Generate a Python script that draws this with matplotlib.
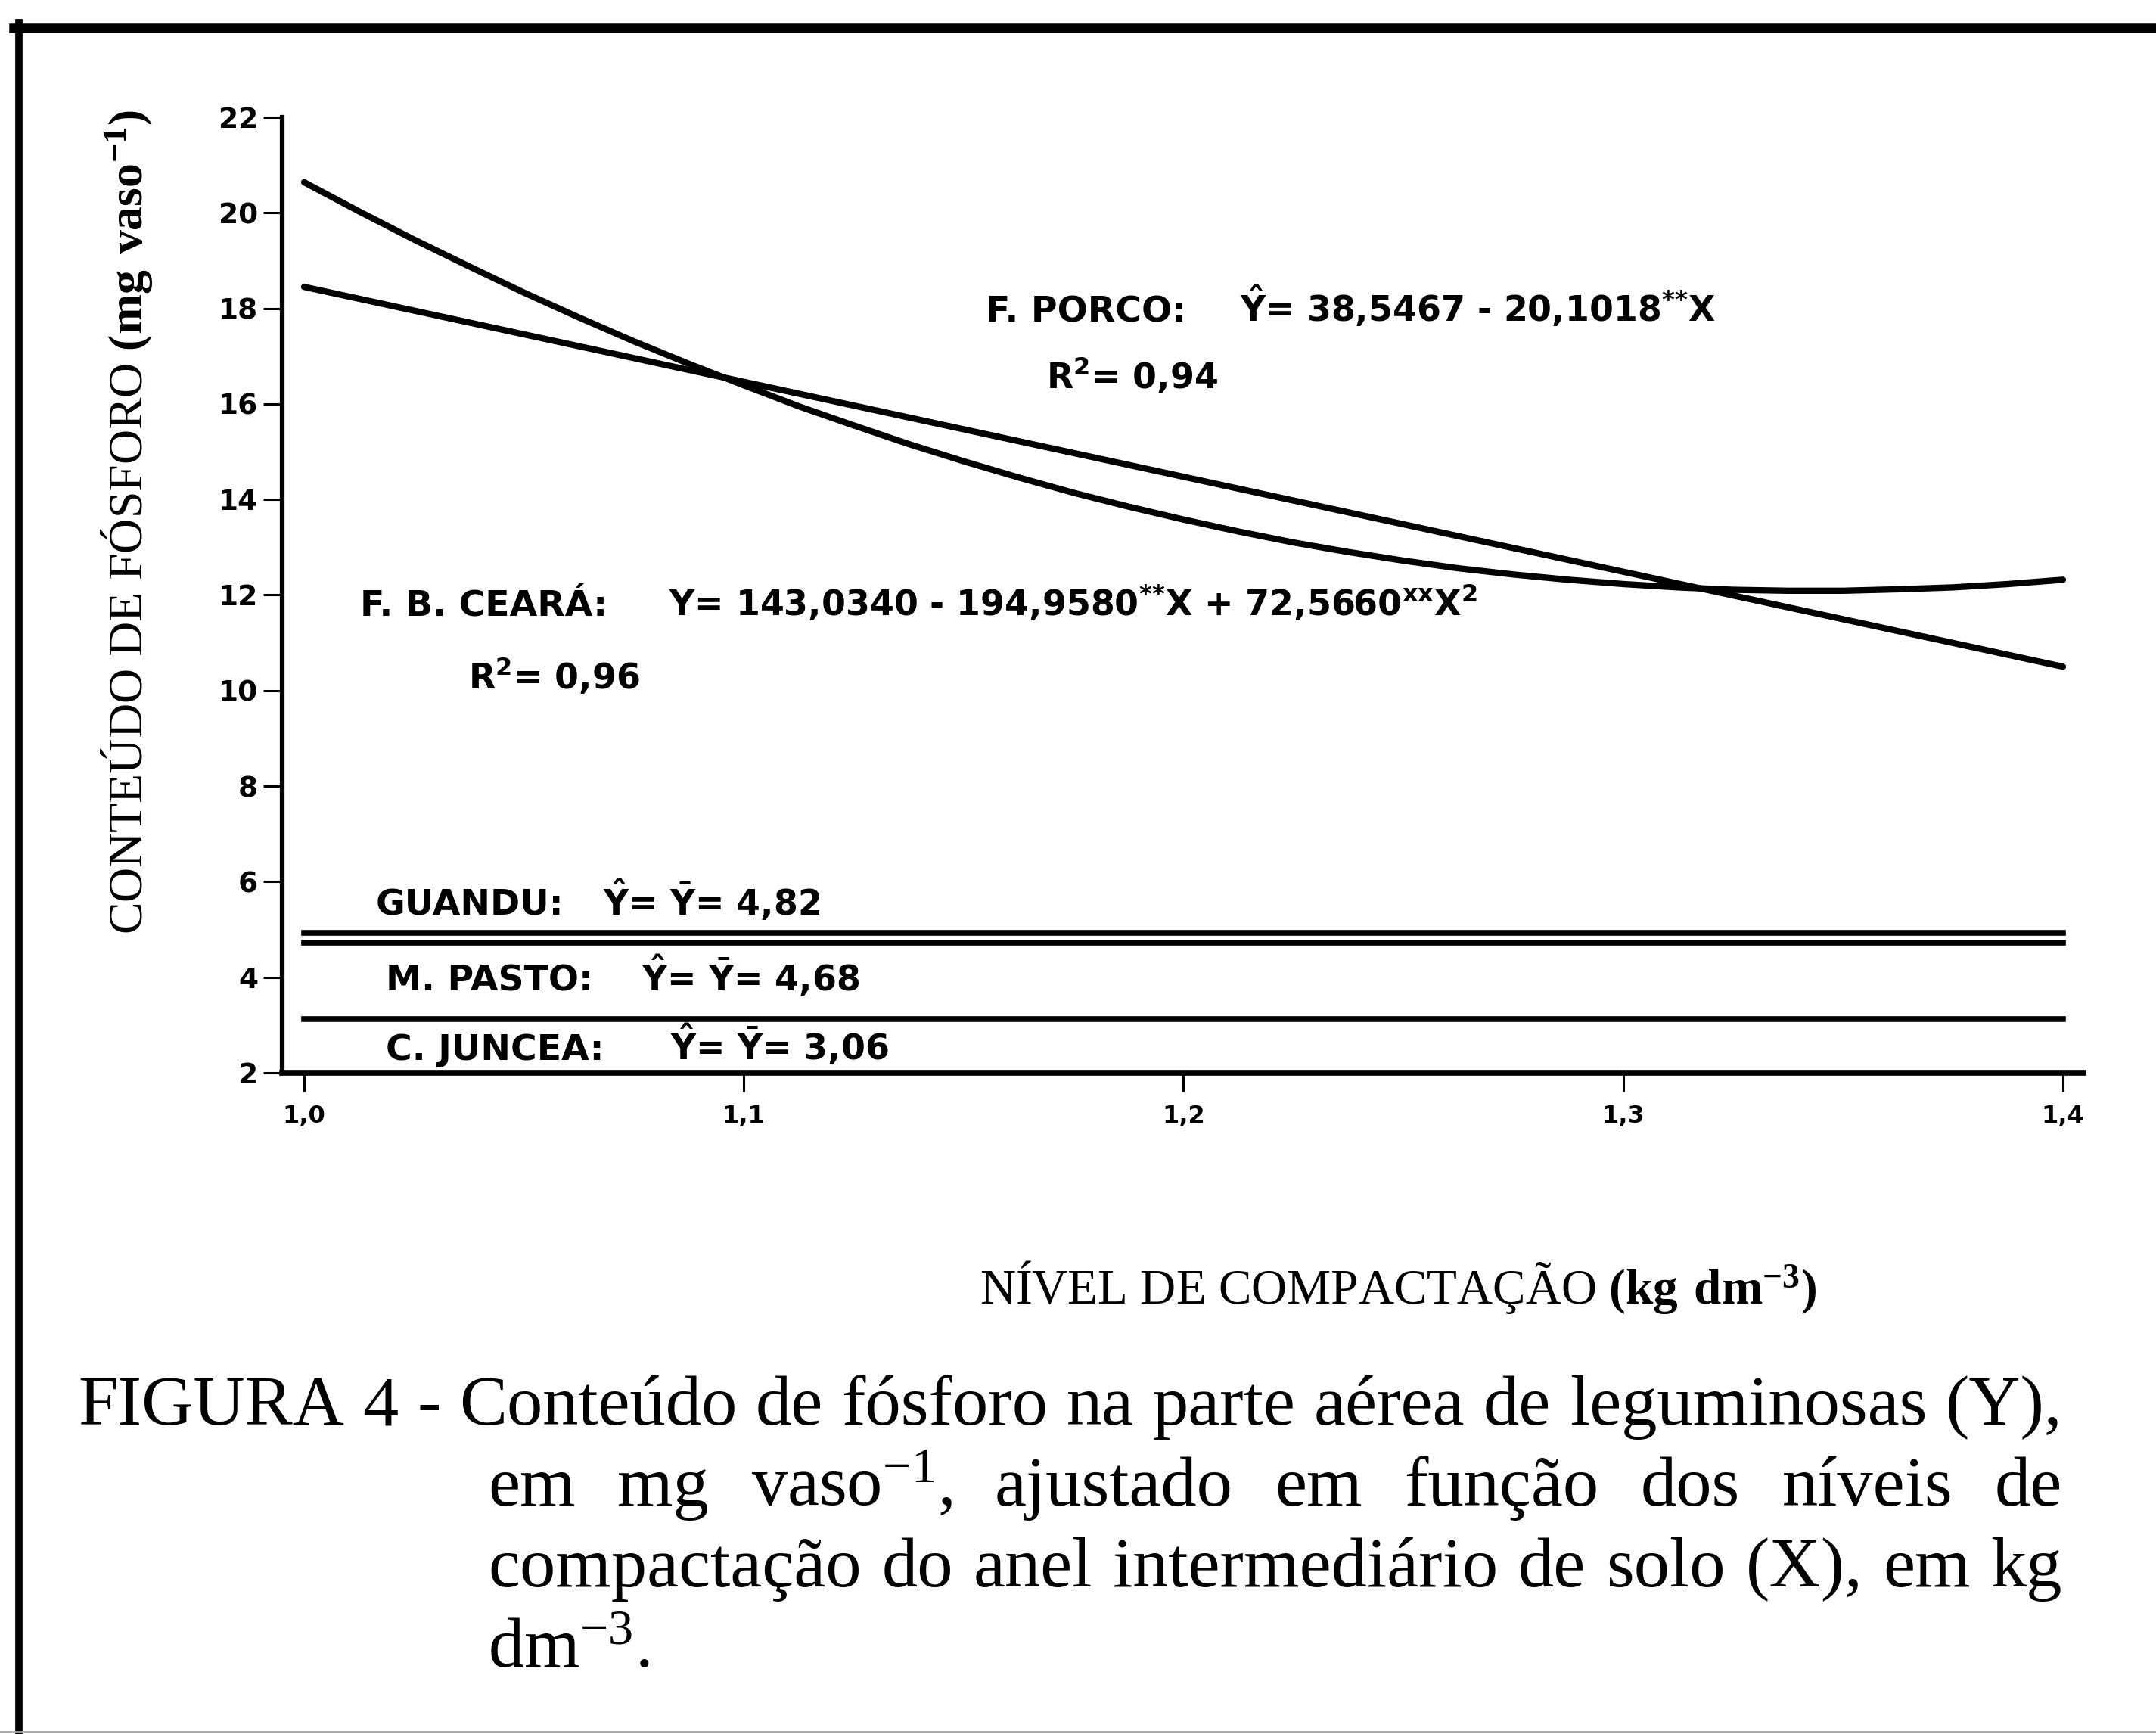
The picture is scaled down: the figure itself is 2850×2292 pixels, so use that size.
import numpy as np
import matplotlib
matplotlib.use("Agg")
import matplotlib.pyplot as plt
from matplotlib.lines import Line2D

# figure size in pixels (saved at dpi 100)
W, H = 2850, 2292

# %% values
xCeara = [1.0000, 1.0125, 1.0250, 1.0375, 1.0500, 1.0625, 1.0750, 1.0875,
          1.1000, 1.1125, 1.1250, 1.1375, 1.1500, 1.1625, 1.1750, 1.1875,
          1.2000, 1.2125, 1.2250, 1.2375, 1.2500, 1.2625, 1.2750, 1.2875,
          1.3000, 1.3125, 1.3250, 1.3375, 1.3500, 1.3625, 1.3750, 1.3875,
          1.4000]
yCeara = [20.64, 20.03, 19.44, 18.88, 18.33, 17.81, 17.31, 16.84,
          16.39, 15.95, 15.55, 15.16, 14.80, 14.46, 14.14, 13.85,
          13.58, 13.33, 13.10, 12.90, 12.72, 12.56, 12.43, 12.32,
          12.23, 12.16, 12.11, 12.09, 12.09, 12.12, 12.16, 12.23,
          12.32]

xPorco = [1.0, 1.4]
yPorco = [18.45, 10.50]

xFlat   = [1.0, 1.4]
guandu  = [4.93, 4.93]
mPasto  = [4.72, 4.72]
cJuncea = [3.12, 3.12]

xTicks      = [1.0, 1.1, 1.2, 1.3, 1.4]
xTickLabels = ["1,0", "1,1", "1,2", "1,3", "1,4"]
yTicks      = [2, 4, 6, 8, 10, 12, 14, 16, 18, 20, 22]

# labels written inside the plot
names = ["F. PORCO:", "F. B. CEARÁ:", "GUANDU:", "M. PASTO:", "C. JUNCEA:"]
eqPorco  = r"$\hat{Y}$= 38,5467 - 20,1018$^{\text{**}}$X"
r2Porco  = r"R$^{2}$= 0,94"
eqCeara  = r"Y= 143,0340 - 194,9580$^{\text{**}}$X + 72,5660$^{\text{xx}}$X$^{2}$"
r2Ceara  = r"R$^{2}$= 0,96"
eqGuandu = r"$\hat{Y}$= $\bar{Y}$= 4,82"
eqPasto  = r"$\hat{Y}$= $\bar{Y}$= 4,68"
eqJuncea = r"$\hat{Y}$= $\bar{Y}$= 3,06"

plt.rcParams['mathtext.fontset'] = 'custom'
plt.rcParams['mathtext.rm'] = 'DejaVu Sans:bold'
plt.rcParams['mathtext.bf'] = 'Liberation Serif:bold'
plt.rcParams['mathtext.default'] = 'regular'

fig = plt.figure(figsize=(W / 100, H / 100), dpi=100)

def fx(px):
    return px / W

def fy(py):
    return 1 - py / H

# axes placed so 1.0 -> 402px, 1.4 -> 2727px, 22 -> 155px, 2 -> 1418px
ax = fig.add_axes([fx(373), fy(1418), (2754 - 373) / W, (1418 - 155) / H])
ax.set_xlim(0.99501, 1.40465)
ax.set_ylim(2, 22)

lw = 6
ax.plot(xCeara, yCeara, color='black', lw=lw, solid_capstyle='round', solid_joinstyle='round')
ax.plot(xPorco, yPorco, color='black', lw=lw, solid_capstyle='round')
ax.plot(xFlat, guandu, color='black', lw=lw - 0.5)
ax.plot(xFlat, mPasto, color='black', lw=lw - 0.5)
ax.plot(xFlat, cJuncea, color='black', lw=lw - 0.5)

ax.spines['top'].set_visible(False)
ax.spines['right'].set_visible(False)
ax.spines['left'].set_linewidth(4.5)
ax.spines['bottom'].set_linewidth(5.5)

ax.set_xticks(xTicks)
ax.set_xticklabels(xTickLabels, fontsize=23, fontweight='bold', family='DejaVu Sans')
ax.set_yticks(yTicks)
ax.set_yticklabels([str(v) for v in yTicks], fontsize=27, fontweight='bold', family='DejaVu Sans')
ax.tick_params(axis='y', direction='out', length=18, width=2.2, pad=5)
ax.tick_params(axis='x', direction='out', length=18, width=2.2, pad=12)

# names of the species (heavy sans) and their equations
namePos = [(1303, 425), (476, 813), (497, 1210), (510, 1310), (510, 1401)]
for nm, (px, py) in zip(names, namePos):
    fig.text(fx(px), fy(py), nm, fontsize=34, fontweight='bold',
             family='DejaVu Sans', va='baseline', ha='left')

eqs   = [eqPorco, r2Porco, eqCeara, r2Ceara, eqGuandu, eqPasto, eqJuncea]
eqPos = [(1639, 425), (1383, 513), (884, 813), (619, 910),
         (797, 1210), (848, 1310), (886, 1401)]
for s, (px, py) in zip(eqs, eqPos):
    fig.text(fx(px), fy(py), s, fontsize=33, fontweight='bold',
             family='DejaVu Sans', va='baseline', ha='left')

# axis titles (serif)
fig.text(fx(168), fy(690), r"CONTEÚDO DE FÓSFORO $\mathbf{(mg\ vaso^{-1})}$",
         rotation=90, ha='center', va='center', fontsize=46, family='Liberation Serif')
fig.text(fx(1295), fy(1723), r"NÍVEL DE COMPACTAÇÃO $\mathbf{(kg\ dm^{-3})}$",
         ha='left', va='baseline', fontsize=47, family='Liberation Serif')

# caption, justified between the two margins
renderer = fig.canvas.get_renderer()

def justify(words, x0, x1, py, size=68, stretch=True):
    ts = [fig.text(0, fy(py), w, fontsize=size, family='Liberation Serif',
                   va='baseline', ha='left') for w in words]
    widths = [t.get_window_extent(renderer).width for t in ts]
    if stretch and len(words) > 1:
        gap = (x1 - x0 - sum(widths)) / (len(words) - 1)
    else:
        gap = 0.25 * size * 100 / 72
    x = x0
    for t, w in zip(ts, widths):
        t.set_x(fx(x))
        x += w + gap

line1 = "FIGURA 4 - Conteúdo de fósforo na parte aérea de leguminosas (Y),".split()
line2 = ["em", "mg", r"vaso$^{-1}$,", "ajustado", "em", "função", "dos", "níveis", "de"]
line3 = "compactação do anel intermediário de solo (X), em kg".split()
line4 = [r"dm$^{-3}$."]

justify(line1, 103, 2726, 1883)
justify(line2, 645, 2726, 1990)
justify(line3, 645, 2726, 2097)
justify(line4, 645, 2726, 2204, stretch=False)

# scanned page frame
fig.add_artist(Line2D([fx(18), fx(W)], [fy(37), fy(37)], color='black', lw=9,
                      transform=fig.transFigure))
fig.add_artist(Line2D([fx(25), fx(25)], [fy(30), fy(H)], color='black', lw=7,
                      transform=fig.transFigure))
fig.add_artist(Line2D([fx(0), fx(W)], [fy(2289), fy(2289)], color='0.65', lw=2,
                      transform=fig.transFigure))

fig.savefig("out.png", dpi=100, facecolor='white')
